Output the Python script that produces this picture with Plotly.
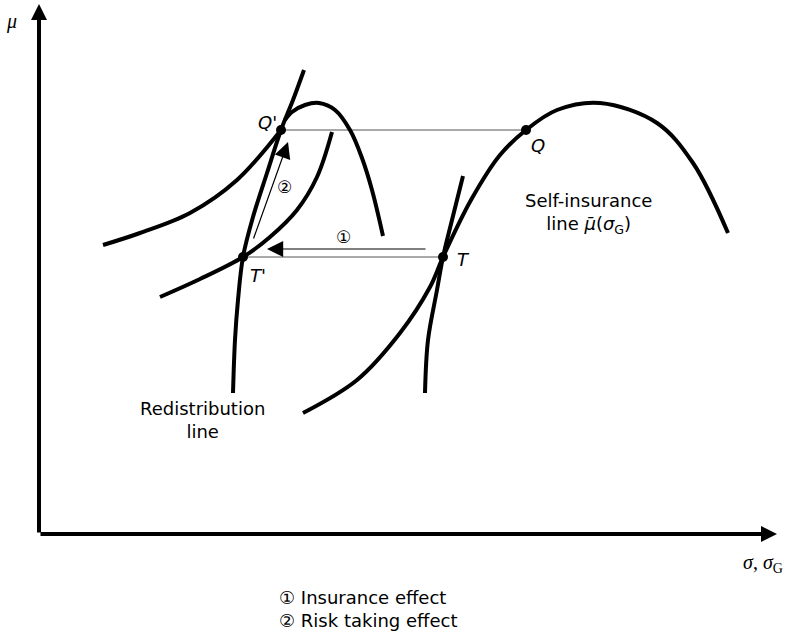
import plotly.graph_objects as go

# ---- diagram data (sigma, mu) ----
self_ins_sigma = [264, 318, 361, 391, 404, 432, 461, 487, 518, 561, 618, 654, 689]
self_ins_mu = [121, 154, 201, 247, 277, 334, 379, 404, 424, 431, 411, 371, 301]

redis_sigma = [194, 196, 199, 204, 214, 228, 242, 254, 265]
redis_mu = [141, 194, 234, 277, 317, 361, 404, 434, 464]

indiff_q_sigma = [64, 101, 151, 198, 242]
indiff_q_mu = [289, 301, 321, 354, 404]

indiff_t1_sigma = [121, 161, 204, 231, 258, 278, 293]
indiff_t1_mu = [237, 255, 277, 297, 324, 357, 402]

small_par_sigma = [246, 253, 266, 280, 296, 311, 323, 333, 344]
small_par_mu = [414, 422, 429, 431, 424, 404, 376, 344, 298]

indiff_t_sigma = [386, 389, 398, 404, 413, 424]
indiff_t_mu = [141, 194, 244, 277, 314, 358]

point_names = ["Q'", "T'", "T", "Q"]
point_sigma = [242, 204, 404, 487]
point_mu = [404, 277, 277, 404]

arrow1_sigma = [388, 228]
arrow1_mu = [285, 285]
arrow2_sigma = [214, 249]
arrow2_mu = [294, 392]

axis_len_sigma = 738
axis_len_mu = 530

SANS = "DejaVu Sans, Liberation Sans, Arial, sans-serif"
SERIF = "Liberation Serif, Times New Roman, DejaVu Serif, serif"

fig = go.Figure()

def curve(xs, ys, width=4, color="black"):
    fig.add_trace(go.Scatter(x=xs, y=ys, mode="lines",
                             line=dict(color=color, width=width, shape="spline", smoothing=1.0),
                             hoverinfo="skip", showlegend=False))

# thin horizontal connectors
curve([point_sigma[0], point_sigma[3]], [point_mu[0], point_mu[3]], width=1, color="#555")
curve([point_sigma[1], point_sigma[2]], [point_mu[1], point_mu[2]], width=1, color="#555")

curve(self_ins_sigma, self_ins_mu)
curve(redis_sigma, redis_mu)
curve(indiff_q_sigma, indiff_q_mu)
curve(indiff_t1_sigma, indiff_t1_mu)
curve(small_par_sigma, small_par_mu)
curve(indiff_t_sigma, indiff_t_mu)

fig.add_trace(go.Scatter(x=point_sigma, y=point_mu, mode="markers",
                         marker=dict(color="black", size=10),
                         hoverinfo="skip", showlegend=False))

ann = []

def arrow(x0, y0, x1, y1, width, size):
    ann.append(dict(x=x1, y=y1, ax=x0, ay=y0, xref="x", yref="y", axref="x", ayref="y",
                    showarrow=True, arrowhead=2, arrowwidth=width, arrowsize=size,
                    arrowcolor="black", text=""))

# axes with arrow heads
arrow(0, 0, 0, axis_len_mu, 4, 0.8)
arrow(0, 0, axis_len_sigma, 0, 4, 0.8)
# effect arrows
arrow(arrow1_sigma[0], arrow1_mu[0], arrow1_sigma[1], arrow1_mu[1], 1.2, 2.7)
arrow(arrow2_sigma[0], arrow2_mu[0], arrow2_sigma[1], arrow2_mu[1], 1.2, 2.7)

def label(x, y, text, size=18, family=SANS, xanchor="center", align="center"):
    ann.append(dict(x=x, y=y, xref="x", yref="y", text=text, showarrow=False,
                    xanchor=xanchor, yanchor="middle", align=align,
                    font=dict(family=family, size=size, color="black")))

label(228, 412, "<i>Q'</i>")
label(219, 259, "<i>T'</i>")
label(424, 275, "<i>T</i>")
label(499, 389, "<i>Q</i>")
label(304, 297, "①", size=17)
label(245, 347, "②", size=17)
label(549, 321, "Self-insurance<br>line <i>μ̄</i>(<i>σ</i><sub>G</sub>)")
label(163, 114, "Redistribution<br>line")
label(-28, 513, "<i>μ</i>", size=20, family=SERIF)
label(724, -29, "<i>σ</i>, <i>σ</i><sub>G</sub>", size=20, family=SERIF)
label(238, -75, "① Insurance effect<br>② Risk taking effect", xanchor="left", align="left")

fig.update_layout(
    width=789, height=642,
    margin=dict(l=0, r=0, t=0, b=0),
    paper_bgcolor="white", plot_bgcolor="white",
    xaxis=dict(range=[-39, 750], visible=False, fixedrange=True),
    yaxis=dict(range=[-108, 534], visible=False, fixedrange=True),
    annotations=ann,
    showlegend=False,
)

fig.write_html("out.html", config={"displayModeBar": False},
               post_script="document.body.style.margin='0px';")
